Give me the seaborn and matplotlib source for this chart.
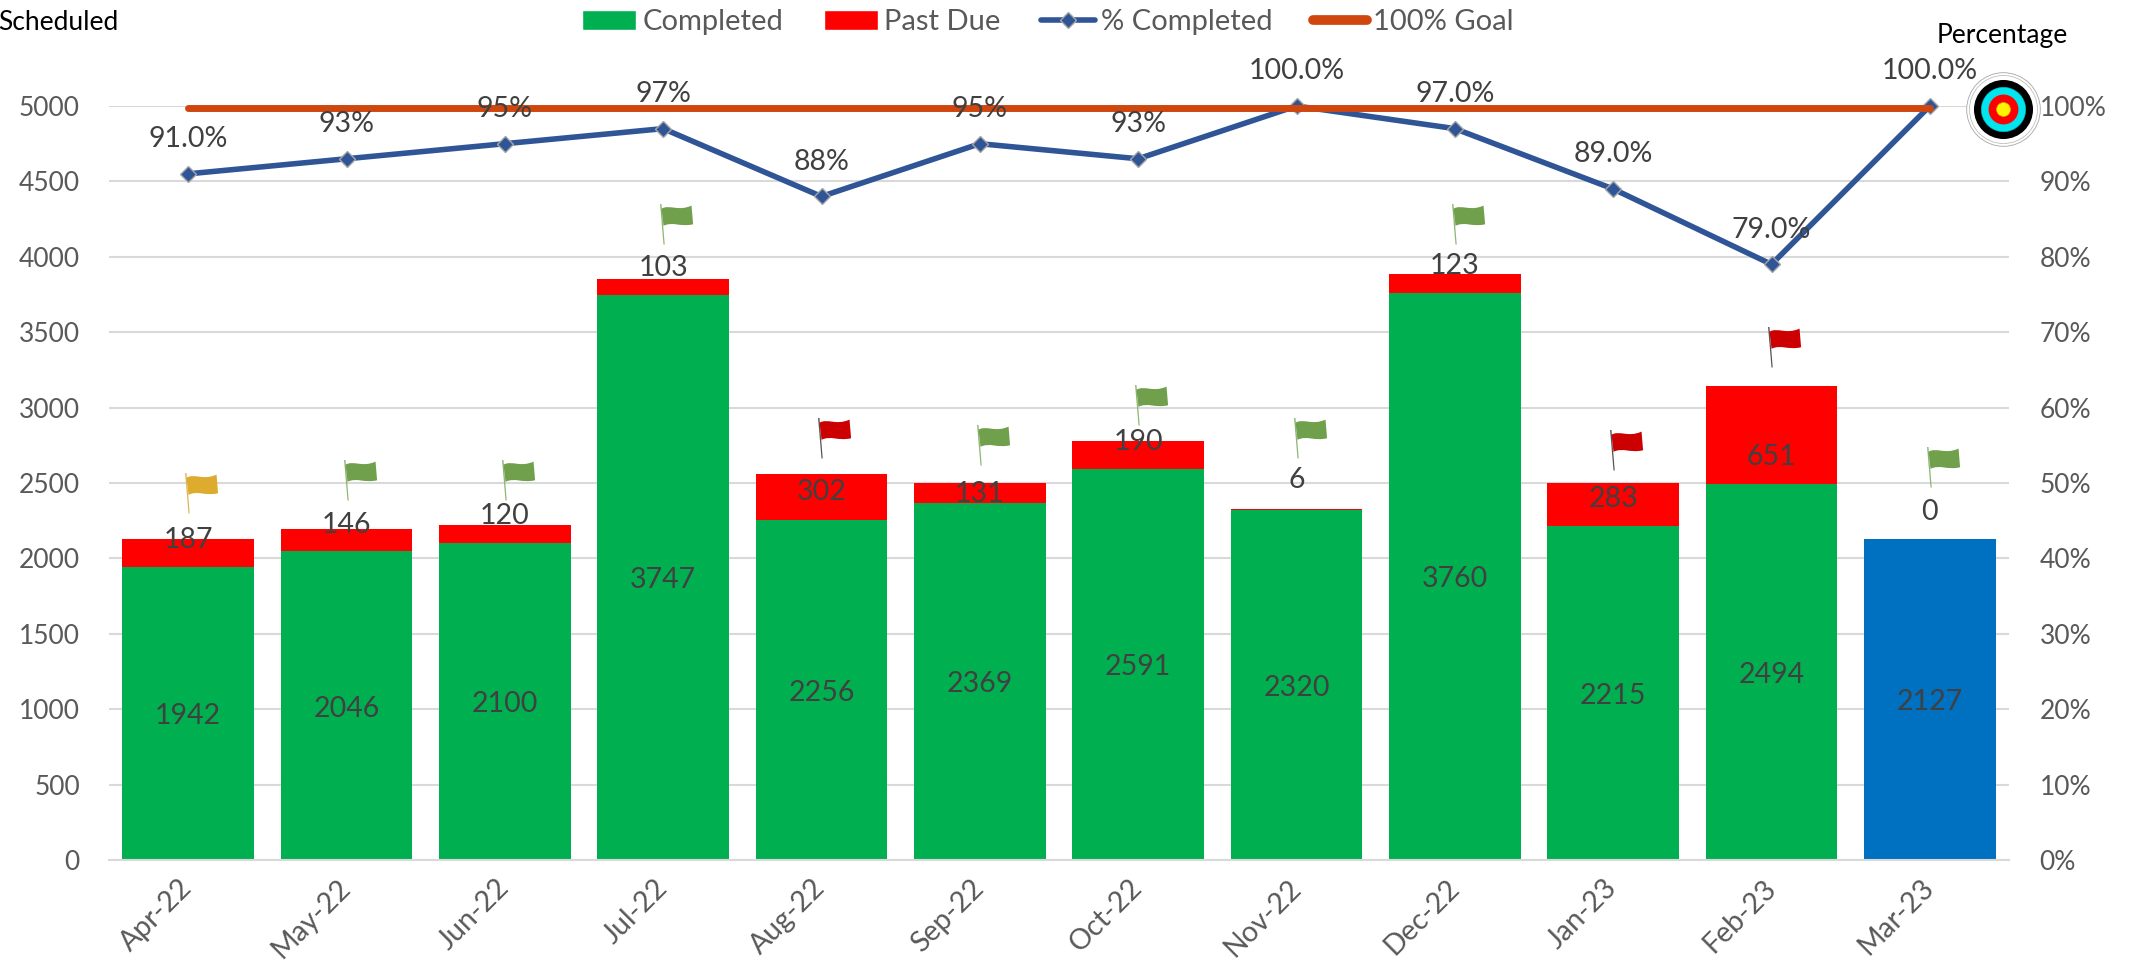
import numpy as np
import matplotlib
matplotlib.use("Agg")
import matplotlib.pyplot as plt
from matplotlib.lines import Line2D
from matplotlib.patches import Patch
from matplotlib.path import Path
import seaborn as sns

months = ["Apr-22", "May-22", "Jun-22", "Jul-22", "Aug-22", "Sep-22",
          "Oct-22", "Nov-22", "Dec-22", "Jan-23", "Feb-23", "Mar-23"]
completed = np.array([1942, 2046, 2100, 3747, 2256, 2369, 2591, 2320, 3760, 2215, 2494, 2127])
past_due = np.array([187, 146, 120, 103, 302, 131, 190, 6, 123, 283, 651, 0])
pct_completed = np.array([91, 93, 95, 97, 88, 95, 93, 100, 97, 89, 79, 100])
pct_labels = ["91.0%", "93%", "95%", "97%", "88%", "95%", "93%",
              "100.0%", "97.0%", "89.0%", "79.0%", "100.0%"]
goal = np.array([100] * 12)

past_due_label_y = [2142, 2241, 2301, 3946, 2460, 2447, 2792, 2540, 3959, 2414, 2692, 2328]
flag_y = [2301, 2387, 2387, 4085, 2666, 2619, 2885, 2666, 4085, 2586, 3269, 2473]
flag_status = ["amber", "green", "green", "green", "red", "green",
               "green", "green", "green", "red", "red", "green"]

GREEN = "#00B050"
RED = "#FF0000"
BLUE = "#0070C0"
LINE_BLUE = "#2F5597"
ORANGE = "#D0460F"
GRID = "#D9D9D9"
TICK = "#595959"
LABEL = "#404040"
FLAG_FILL = {"amber": "#DDAB2E", "green": "#70A04C", "red": "#CC0000"}
FLAG_POLE = {"amber": "#DDB55A", "green": "#8DB574", "red": "#555555"}

sns.set_theme(style="white")
plt.rcParams["font.family"] = ["Lato", "DejaVu Sans"]
FS = 19
LABEL_FS = 20.5

fig = plt.figure(figsize=(21.33, 9.69), dpi=100)
ax = fig.add_axes([109 / 2133, 1 - 860 / 969, 1900 / 2133, 754 / 969])
x_pos = np.arange(len(months))

# stacked bars: total in red first, completed painted over it
sns.barplot(x=months, y=completed + past_due, color=RED, saturation=1, width=0.833,
            linewidth=0, ax=ax)
bar_colors = [GREEN] * 11 + [BLUE]
sns.barplot(x=months, y=completed, hue=months, palette=bar_colors, saturation=1,
            width=0.833, linewidth=0, legend=False, ax=ax)

ax.set_ylim(0, 5000)
ax.set_xlim(-0.5, 11.5)
ax.set_yticks(np.arange(0, 5001, 500))
ax.set_axisbelow(True)
ax.yaxis.grid(True, color=GRID, linewidth=1.5)
ax.tick_params(axis="y", length=0, pad=21, labelsize=FS, labelcolor=TICK)
ax.tick_params(axis="x", length=0, pad=17, labelsize=20.5, labelcolor=TICK)
ax.set_xticks(x_pos)
ax.set_xticklabels(months, rotation=45, ha="right", va="center", rotation_mode="anchor")
ax.set_xlabel("")
ax.set_ylabel("")
sns.despine(ax=ax, left=True, right=True, top=True)
ax.spines["bottom"].set_color(GRID)
ax.spines["bottom"].set_linewidth(1.5)

for x, c, d, ly in zip(x_pos, completed, past_due, past_due_label_y):
    ax.annotate(str(c), (x, c / 2), xytext=(0, -2), textcoords="offset points",
                ha="center", va="center", fontsize=LABEL_FS, color=LABEL)
    ax.annotate(str(d), (x, ly), xytext=(0, -2), textcoords="offset points",
                ha="center", va="center", fontsize=LABEL_FS, color=LABEL)

# secondary axis with the percentages
ax2 = ax.twinx()
sns.lineplot(x=x_pos, y=pct_completed, color=LINE_BLUE, linewidth=4, marker="D", markersize=8,
             markerfacecolor=LINE_BLUE, markeredgecolor="#A5A5A5", markeredgewidth=1,
             errorbar=None, clip_on=False, ax=ax2)
sns.lineplot(x=x_pos, y=goal - 0.3, color=ORANGE, linewidth=5, solid_capstyle="round",
             errorbar=None, clip_on=False, ax=ax2)
ax2.set_ylim(0, 100)
ax2.set_xlim(-0.5, 11.5)
ax2.set_yticks(np.arange(0, 101, 10))
ax2.set_yticklabels([f"{v}%" for v in range(0, 101, 10)])
ax2.tick_params(axis="y", length=0, pad=22, labelsize=FS, labelcolor=TICK)
ax2.set_ylabel("")
ax2.grid(False)
sns.despine(ax=ax2, left=True, right=True, top=True, bottom=True)

for x, p, txt in zip(x_pos, pct_completed, pct_labels):
    ax2.annotate(txt, (x, p), xytext=(0, 25), textcoords="offset points",
                 ha="center", va="center", fontsize=LABEL_FS, color=LABEL, annotation_clip=False)

# little flags above the bars
flag_shape = Path(
    [(-0.05, 0.92), (0.15, 1.04), (0.38, 0.84), (0.72, 1.0),
     (0.76, 0.52), (0.42, 0.44), (0.25, 0.60), (0.0, 0.48), (-0.05, 0.92)],
    [Path.MOVETO, Path.CURVE4, Path.CURVE4, Path.CURVE4, Path.LINETO,
     Path.CURVE4, Path.CURVE4, Path.CURVE4, Path.CLOSEPOLY])
pole_shape = Path([(0.0, 0.0), (-0.085, 1.0), (-0.05, 1.0), (0.03, 0.0), (0.0, 0.0)],
                  [Path.MOVETO, Path.LINETO, Path.LINETO, Path.LINETO, Path.CLOSEPOLY])
for x, y, st in zip(x_pos, flag_y, flag_status):
    ax.scatter(x, y, marker=pole_shape, s=3400, color=FLAG_POLE[st], linewidths=0, zorder=5, clip_on=False)
    ax.scatter(x, y, marker=flag_shape, s=3400, color=FLAG_FILL[st], linewidths=0, zorder=5, clip_on=False)

# target icon next to the last point
target_x = x_pos[-1] + 0.46
target_y = 99.6
for diam, face, edge, lw in [(53, "white", "#A6A6A6", 0.6), (49, "white", "#BFBFBF", 0.6),
                             (42.5, "black", "black", 0), (32, "#00E5EE", "#00B8C0", 0.4),
                             (21.5, "#FF0000", "#FF0000", 0), (10, "#FFF200", "#C9BE00", 0.4)]:
    ax2.scatter(target_x, target_y, s=diam ** 2, facecolor=face, edgecolor=edge, linewidths=lw,
                zorder=6, clip_on=False)

fig.text(-2 / 2133, 1 - 22 / 969, "Scheduled", ha="left", va="center", fontsize=FS, color="black")
fig.text(2002 / 2133, 1 - 35 / 969, "Percentage", ha="center", va="center", fontsize=FS, color="black")

handles = [
    Patch(facecolor=GREEN),
    Patch(facecolor=RED),
    Line2D([0], [0], color=LINE_BLUE, linewidth=4, marker="D", markersize=8,
           markerfacecolor=LINE_BLUE, markeredgecolor="#A5A5A5", markeredgewidth=1),
    Line2D([0], [0], color=ORANGE, linewidth=7, solid_capstyle="round"),
]
fig.legend(handles, ["Completed", "Past Due", "% Completed", "100% Goal"], loc="center",
           bbox_to_anchor=(1048 / 2133, 1 - 22 / 969), ncol=4, frameon=False, fontsize=21,
           labelcolor=TICK, handlelength=1.85, handletextpad=0.2, columnspacing=1.4)

fig.savefig("out.png", dpi=100)
